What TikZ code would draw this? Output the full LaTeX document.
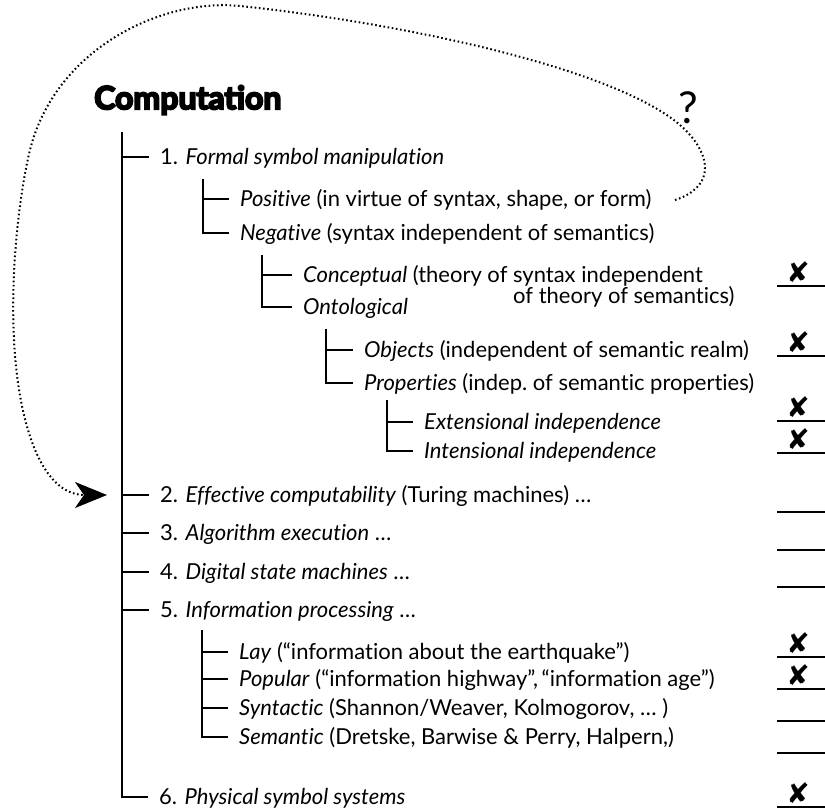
\documentclass[tikz,border=0pt]{standalone}
\usepackage{fontspec}
\setmainfont{Lato}[Ligatures={TeX,NoCommon}]
\newfontfamily\titlefont{Lato}[FakeBold=6]
\newfontfamily\crossfont{DejaVu Sans}
\usetikzlibrary{arrows.meta}

\begin{document}
\begin{tikzpicture}[x=1pt, y=-1pt,
			every node/.style = {inner sep=0pt},
			item/.style = {anchor=west, inner xsep=11pt,
					text height=15.4pt, text depth=0pt,
					font=\fontsize{22}{26}\selectfont},
			branch/.style = {line width=1.7pt},
			loopline/.style = {line width=2pt, dash pattern=on 1.6pt off 2.6pt,
					-{Stealth[length=32pt, width=26pt, inset=9pt]}},
			tally/.style = {line width=1.7pt},
			cross/.style = {font=\crossfont\fontsize{28}{28}\selectfont}]
		\useasboundingbox (0,0) rectangle (825,810);

		% heading and the question mark
		\node[anchor=west, font=\titlefont\bfseries\fontsize{32}{34}\selectfont] (title) at (94,100) {Computation};
		\node[font=\fontsize{44}{44}\selectfont] (qmark) at (688,108) {?};

		% trunk tops
		\coordinate (t1) at (122,132);
		\coordinate (t2) at (203,179);
		\coordinate (t3) at (262,255);
		\coordinate (t4) at (326,329);
		\coordinate (t5) at (387,400);
		\coordinate (t6) at (202,630);

		% entries
		\node[item] (n1) at (149,157) {1. \textit{Formal symbol manipulation}};
		\node[item] (pos) at (229,199) {\textit{Positive} (in virtue of syntax, shape, or form)};
		\node[item] (neg) at (229,233) {\textit{Negative} (syntax independent of semantics)};
		\node[item] (conc) at (292,275) {\textit{Conceptual} (theory of syntax independent};
		\node[item, inner xsep=0pt] (conc2) at (513,296) {of theory of semantics)};
		\node[item] (onto) at (292,307) {\textit{Ontological}};
		\node[item] (obj) at (353,350) {\textit{Objects} (independent of semantic realm)};
		\node[item] (prop) at (353,383) {\textit{Properties} (indep.\ of semantic properties)};
		\node[item] (ext) at (413,422) {\textit{Extensional independence}};
		\node[item] (int) at (413,451) {\textit{Intensional independence}};
		\node[item] (n2) at (149,495) {2. \textit{Effective computability} (Turing machines) …};
		\node[item] (n3) at (149,533) {3. \textit{Algorithm execution} …};
		\node[item] (n4) at (149,572) {4. \textit{Digital state machines} …};
		\node[item] (n5) at (149,610) {5. \textit{Information processing} …};
		\node[item] (lay) at (228,652) {\textit{Lay} (“information about the earthquake”)};
		\node[item] (pop) at (228,679) {\textit{Popular} (“information highway”,\,“information age”)};
		\node[item] (syn) at (228,708) {\textit{Syntactic} (Shannon/Weaver, Kolmogorov, … )};
		\node[item] (sem) at (228,737) {\textit{Semantic} (Dretske, Barwise \& Perry, Halpern,)};
		\node[item] (n6) at (148,797) {6. \textit{Physical symbol systems}};

		% branches
		\foreach \n in {n1,n2,n3,n4,n5,n6}
			\draw[branch] (t1) |- (\n.west);
		\foreach \n in {pos,neg}
			\draw[branch] (t2) |- (\n.west);
		\foreach \n in {conc,onto}
			\draw[branch] (t3) |- (\n.west);
		\foreach \n in {obj,prop}
			\draw[branch] (t4) |- (\n.west);
		\foreach \n in {ext,int}
			\draw[branch] (t5) |- (\n.west);
		\foreach \n in {lay,pop,syn,sem}
			\draw[branch] (t6) |- (\n.west);

		% the dotted loop back to item 2
		\coordinate (qstart) at (675,200);
		\coordinate (arrowtip) at (107,495);
		\draw[loopline] (qstart) .. controls (712,188) and (712,160) .. (690,135)
			.. controls (640,75) and (420,25) .. (240,6)
			.. controls (160,-2) and (55,50) .. (30,150)
			.. controls (22,182) and (10,260) .. (14,340)
			.. controls (18,420) and (40,495) .. (arrowtip);

		% verdict column
		\foreach \y/\x in {286/1,356/1,421/1,453/1,512/0,550/0,587/0,657/1,689/1,721/0,753/0,807/1} {
			\draw[tally] (777,\y) -- (825,\y);
			\ifnum\x=1 \node[cross] (cross-\y) at (798,\y-14) {✘}; \fi
		}
\end{tikzpicture}
\end{document}
